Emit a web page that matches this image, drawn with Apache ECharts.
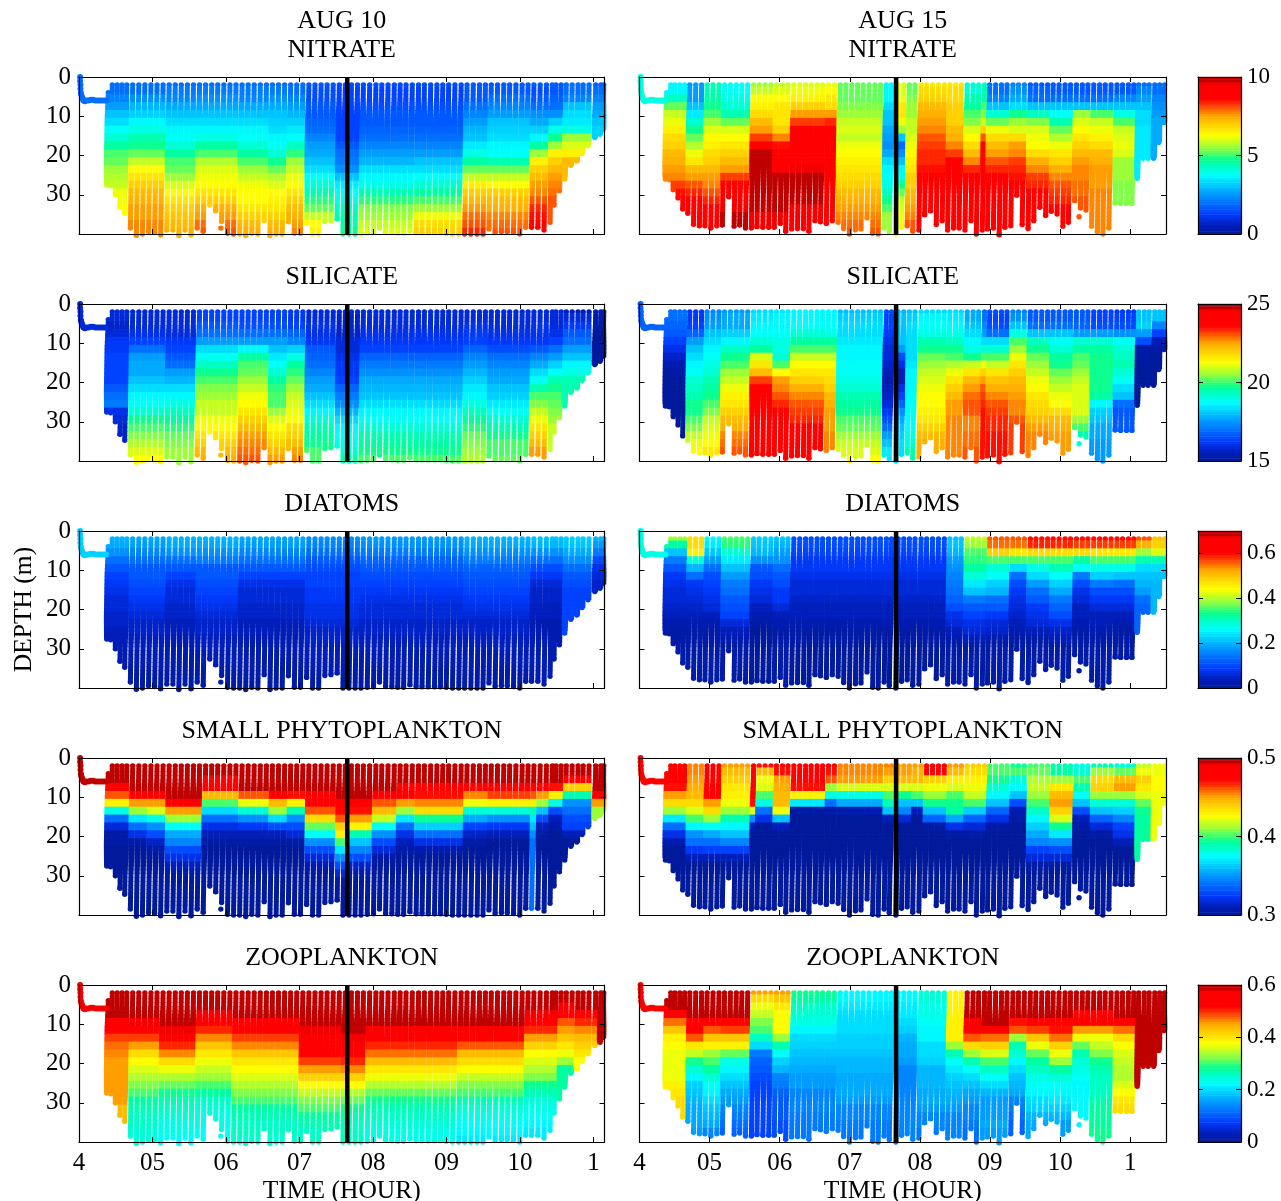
<!DOCTYPE html>
<html><head><meta charset="utf-8">
<style>html,body{margin:0;padding:0;background:#fff}#c{width:1281px;height:1201px}</style>
<script src="https://cdn.jsdelivr.net/npm/echarts@6/dist/echarts.min.js"></script>
</head><body><div id="c"></div>
<script>
// Cast times (hour) and bottom depths (m)
const timesA=[4.40,4.453,4.519,4.585,4.651,4.731,4.814,4.896,4.979,5.062,5.144,5.227,5.31,5.392,5.475,5.558,5.64,5.723,5.806,5.888,5.971,6.054,6.136,6.219,6.302,6.384,6.467,6.55,6.632,6.715,6.798,6.88,6.963,7.046,7.128,7.211,7.294,7.376,7.459,7.542,7.624,7.707,7.79,7.87,7.955,8.04,8.12,8.205,8.29,8.37,8.45,8.535,8.62,8.70,8.785,8.87,8.95,9.03,9.115,9.20,9.28,9.365,9.45,9.53,9.61,9.695,9.78,9.86,9.945,10.03,10.11,10.19,10.275,10.36,10.44,10.49,10.56,10.63,10.71,10.79,10.86,10.94,11.03,11.10,11.14];
const bottomsA=[27.5,27.7,30,33.2,34.7,38.5,40.3,40,39.4,39.6,40.2,39,39,40.4,39,40.2,38.5,39.3,32.6,34.1,36.8,39.8,40,40,40.4,39.8,40,36.6,40.4,40,40,36.9,39.8,39.8,37.3,40,40,36.8,36.6,36.2,40,40,40,40,39.8,39.7,38.5,39.6,39.7,39.8,39.8,39.2,39.7,39.7,39.7,39.7,39.7,39.8,40,40,40,40,40,40,38.7,39.6,39.4,39.4,39.6,40,38.3,38.3,38.3,39,37,32.6,29,26,22.5,21.4,19.5,17.5,15.4,14.6,13.3];
const timesB=[4.39,4.446,4.505,4.575,4.644,4.718,4.802,4.886,4.965,5.049,5.134,5.213,5.297,5.381,5.46,5.544,5.628,5.707,5.791,5.875,5.954,6.039,6.118,6.202,6.286,6.37,6.449,6.533,6.612,6.696,6.78,6.864,6.944,7.028,7.112,7.191,7.275,7.359,7.438,7.522,7.596,7.69,7.77,7.85,7.93,8.017,8.096,8.18,8.264,8.348,8.427,8.511,8.59,8.675,8.759,8.838,8.922,8.996,9.08,9.164,9.243,9.327,9.406,9.49,9.575,9.654,9.738,9.822,9.901,9.985,10.07,10.148,10.232,10.317,10.396,10.48,10.564,10.643,10.727,10.811,10.89,10.974,11.05,11.12,11.2,11.27,11.35,11.42,11.49];
const bottomsB=[26,26.2,28.7,30.8,33.6,34.7,37.5,37.9,37.9,38.5,37.9,37.7,30.5,38,37.7,38.5,38.5,38.1,38.3,38.3,38.3,37.3,39.3,38.7,38.6,38.6,39.3,36.6,36.9,37.3,36.6,37,38.6,40,38.9,38.7,35.9,39.8,40,38.5,39.4,40,38.3,37.9,39.3,39,35.1,34.1,37.6,36.6,39,38.5,38.5,39,36.6,40,39,38.7,38.5,40.2,38.3,37.9,30.1,37.6,38.6,36.6,33.2,35.3,34.2,34.9,38,37,31.5,33.4,33.9,38,39.4,40,38.5,32.1,32.2,32.2,32.2,25.8,20.7,20.7,20.7,16.7,11.6];
const strayA=[5.93,38.5];
const strayB=[10.27,35.6];
const towTimes=[4.015,4.015,4.02,4.02,4.025,4.03,4.04,4.05,4.06,4.08,4.1,4.13,4.16,4.19,4.22,4.25,4.28,4.31,4.34,4.37];
const towDepths=[0,1,2,3,4,4.5,5,5.5,6,6.2,6,6,5.8,5.8,6,6,6,6,6,6];
const blackLineA=7.65, blackLineB=7.66;
const panelNames=['NITRATE','SILICATE','DIATOMS','SMALL PHYTOPLANKTON','ZOOPLANKTON'];
const dates=['AUG 10','AUG 15'];
const xTickLabels=['4','05','06','07','08','09','10','1'];
const yTicks=[0,10,20,30];
const barRanges=[[0,10,5],[15,25,5],[0,0.7,0.2],[0.3,0.5,0.1],[0,0.6,0.2]];
const towValuesA=[2.0,15.8,0.22,0.5,0.58];
const towValuesB=[4.0,16.8,0.28,0.476,0.52];

// Each row: start hour of a run of casts, then the value at depth 2,4,6,... m (last value holds below)
const nitrateA=[
[4.38,2.0,2.0,2.2,2.6,3,3.4,3.8,4.2,4.6,5,5.3,5.5,5.7,5.9,6.1,6.2,6.4],
[4.71,1.9,2,2.4,2.9,3.2,3.6,4,4.4,4.8,5.3,5.8,6.3,6.6,6.9,7.2,7.4,7.5,7.6,7.7,7.8],
[5.16,2,2.1,2.3,2.7,3.1,3.4,3.7,3.9,4.2,4.6,5,5.3,5.6,6,6.3,6.6,6.9,7.1,7.2,7.4],
[5.63,2,2.1,2.4,2.7,3.1,3.4,3.7,4,4.6,5.1,5.7,6,6.2,6.4,6.6,7,7.4,7.6,7.9,8],
[6.14,2,2.1,2.3,2.7,3,3.3,3.6,3.9,4.2,4.6,5.1,5.6,5.9,6.1,6.3,6.4,6.6,6.9,7.2,7.4],
[6.61,2,2.1,2.4,2.7,3,3.2,3.4,3.6,3.9,4.2,4.8,5.2,5.7,6,6.3,6.5,6.7,7,7.2,7.4],
[6.8,1.9,2,2.3,2.6,2.9,3.2,3.5,3.9,4.3,4.9,5.6,5.9,6.1,6.3,6.6,6.9,7.2,7.4,7.6,7.7],
[7.05,1.6,1.5,1.5,1.6,1.7,1.8,2,2.2,2.5,2.8,3,3.4,3.8,4.2,4.5,4.9,5.3,5.8,6.3,6.5],
[7.51,1.5,1.3,1.3,1.3,1.3,1.3,1.3,1.4,1.6,1.9,2.1,2.4,3,3.5,3.8,4,4.3,4.4,4.5,4.7],
[7.84,1.5,1.4,1.4,1.5,1.6,1.7,1.8,2,2.2,2.5,2.9,3.3,3.7,4,4.4,4.9,5.4,5.6,5.8,6],
[8.54,1.5,1.4,1.4,1.5,1.6,1.7,1.8,2,2.2,2.6,3,3.4,3.8,4.2,4.6,5.1,5.6,6.2,6.8,7],
[9.25,1.7,1.6,1.7,2,2.3,2.6,2.9,3.1,3.5,4,4.6,5.3,5.9,6.5,7,7.3,7.6,7.9,8.1,8.3],
[9.61,1.7,1.7,1.9,2.2,2.6,3,3.2,3.4,3.6,3.9,4.4,5.2,5.9,6.4,6.9,7.2,7.4,7.7,7.9,8],
[10.17,1.6,1.5,1.7,2,2.4,2.8,3.2,3.6,4.6,5.6,6.5,7,7.3,7.6,7.8,8.1,8.3,8.5,8.7,8.8],
[10.38,1.6,1.6,1.8,2,2.4,3.2,4,4.8,5.6,6.5,7,7.3,7.5,7.8,7.9,8],
[10.57,1.9,2,2.3,3,3.3,3.5,4,5.5,6,6.5,7.2],
[11,1.8,2,2.3,2.5,2.7,3,3.2]];
const siliA=[
[4.38,15.9,15.8,15.7,15.9,16.1,16.2,16.3,16.3,16.3,16.4,16.6,16.9,17.1,16,15.8,15.7],
[4.71,15.8,15.8,15.8,16,16.4,17,17.6,17.7,17.8,18,18.3,18.6,18.8,19.2,19.7,20,20.4,20.7,21,21.3],
[5.16,15.8,15.8,15.8,15.9,16.1,16.3,16.6,17,17.5,17.9,18.3,18.7,19,19.3,19.6,19.9,20.2,20.4,20.5,20.6],
[5.63,16.3,16.4,16.7,17,17.5,18.3,18.8,19.3,19.8,20,20.4,20.6,20.8,20.9,21.1,21.4,21.6,21.9,22.2,22.4],
[6.14,16.3,16.3,16.5,16.9,17.5,18.7,19.6,20,20.3,20.6,20.9,21.1,21.4,21.6,21.9,22.2,22.5,22.7,22.9,23.1],
[6.61,16.3,16.3,16.5,16.9,17.5,18,18.5,18.8,19.2,19.6,19.9,20,20.1,20.5,21,21.3,21.6,22,22.2,22.5],
[6.8,16.2,16.2,16.4,16.8,17.3,18.2,19,19.6,19.9,20.2,20.5,20.8,21,21.2,21.4,21.8,22,22.2,22.5,22.7],
[7.05,15.9,15.9,16,16,16.2,16.6,16.8,17,17.2,17.5,17.8,18.1,18.3,18.7,19.1,19.4,19.6,19.8,20,20.1],
[7.51,15.8,15.7,15.7,15.7,15.8,15.9,16,16.1,16.2,16.4,16.8,17.1,17.4,17.9,18.3,18.6,18.8,19,19.2,19.4],
[7.84,15.9,15.9,15.9,16,16.2,16.4,16.8,17.1,17.4,17.7,17.9,18.1,18.3,18.6,18.9,19.1,19.4,19.6,19.8,20],
[9.25,15.9,15.9,16,16.1,16.4,16.8,17.2,17.6,17.9,18.2,18.5,18.7,19,19.3,19.6,19.9,20.2,20.4,20.6,20.7],
[9.61,15.9,15.9,15.9,16,16.2,16.5,16.9,17.2,17.6,17.8,18,18.2,18.5,18.8,19.2,19.5,19.8,20,20.1,20.2],
[10.17,15.9,15.9,16,16,16.2,16.6,17.2,17.7,18.3,18.9,19.5,20,20.4,20.8,21.2,21.6,22,22.3,22.5,22.6],
[10.38,15.8,15.8,15.9,16,16.4,17,17.6,18.2,18.8,19.4,19.8,20,20.2,20.4,20.6,20.8],
[10.57,15.6,15.8,16.1,16.6,17,17.5,18,18.6,19,19.5],
[11,15.6,15.4,15.2,15.1]];
const diatA=[
[4.38,.2,.19,.17,.14,.11,.09,.08,.07,.06,.06,.05,.05,.04,.04,.03,.03,.03,.02],
[4.71,.19,.18,.16,.14,.12,.11,.1,.09,.08,.07,.06,.05,.05,.04,.04,.03,.03,.02],
[5.16,.2,.19,.17,.14,.11,.09,.07,.06,.06,.05,.05,.04,.04,.03,.03,.03,.02],
[5.63,.2,.19,.17,.15,.12,.11,.1,.09,.08,.07,.06,.05,.05,.04,.04,.03,.03,.02],
[6.14,.19,.18,.16,.14,.11,.09,.07,.06,.06,.05,.05,.04,.04,.03,.03,.03,.02],
[7.05,.17,.16,.14,.12,.1,.09,.09,.08,.08,.07,.07,.06,.05,.05,.04,.04,.03,.03,.02],
[7.84,.18,.17,.15,.13,.11,.1,.09,.08,.07,.06,.06,.05,.05,.04,.04,.03,.03,.02],
[9.25,.2,.19,.17,.15,.13,.11,.1,.09,.08,.07,.06,.05,.05,.04,.04,.03,.03,.02],
[10.17,.21,.2,.17,.14,.1,.08,.06,.05,.05,.04,.04,.03],
[10.57,.22,.21,.19,.17,.14,.12,.1,.09],
[11,.2,.18,.15,.1,.07,.06,.05]];
const phytoA=[
[4.38,.5,.5,.5,.49,.46,.43,.38,.34,.316,.306,.304,.302,.3],
[4.71,.5,.5,.5,.5,.48,.45,.41,.37,.34,.32,.306,.302,.3],
[4.91,.5,.5,.5,.5,.48,.45,.42,.38,.35,.33,.315,.306,.302,.3],
[5.16,.5,.5,.5,.5,.5,.49,.45,.41,.376,.356,.346,.33,.32,.31,.304,.3],
[5.67,.5,.5,.49,.48,.444,.4,.366,.34,.32,.312,.304,.3],
[6.14,.5,.5,.5,.495,.46,.424,.384,.35,.324,.312,.306,.3],
[6.61,.5,.5,.5,.5,.474,.444,.41,.366,.33,.312,.304,.3],
[6.85,.5,.5,.5,.495,.47,.43,.39,.35,.33,.316,.306,.3],
[7.05,.5,.5,.5,.5,.49,.476,.46,.436,.404,.376,.35,.33,.316,.308,.3],
[7.51,.5,.5,.5,.5,.5,.49,.48,.46,.44,.43,.4,.37,.35,.33,.316,.304,.3],
[7.67,.5,.5,.5,.5,.5,.49,.47,.45,.43,.39,.36,.345,.33,.315,.305,.3],
[7.99,.5,.5,.5,.495,.48,.46,.444,.416,.376,.35,.33,.316,.306,.3],
[8.33,.5,.5,.5,.49,.474,.45,.41,.37,.34,.32,.312,.304,.3],
[8.62,.5,.5,.5,.49,.47,.456,.436,.396,.364,.34,.32,.308,.3],
[9.28,.5,.5,.5,.49,.456,.424,.384,.356,.328,.314,.304,.3],
[9.61,.5,.5,.5,.49,.464,.43,.384,.35,.324,.31,.302,.3],
[10.15,.5,.5,.5,.49,.46,.43,.39,.37,.36,.35,.34],
[10.22,.5,.5,.5,.48,.45,.41,.36,.33,.31,.305,.3],
[10.38,.5,.5,.5,.47,.43,.38,.33,.31,.304,.3],
[10.6,.5,.5,.49,.44,.39,.35,.34,.33,.325,.31,.3],
[11.02,.5,.5,.5,.5,.49,.45,.41]];
const zooA=[
[4.38,.6,.6,.6,.59,.55,.52,.49,.47,.46,.45,.45,.45,.45,.45,.45,.44],
[4.69,.6,.6,.6,.6,.58,.54,.49,.45,.41,.38,.36,.34,.32,.3,.28,.27,.26,.26,.25,.25],
[5.14,.6,.6,.6,.6,.6,.58,.54,.5,.46,.41,.37,.34,.31,.29,.27,.26,.25,.24,.24,.23],
[5.6,.6,.6,.6,.58,.54,.5,.46,.43,.4,.37,.35,.33,.3,.28,.26,.25,.24,.24,.23,.23],
[6.12,.6,.6,.6,.59,.55,.52,.49,.46,.43,.4,.38,.36,.34,.32,.3,.28,.27,.26,.26,.25],
[7,.6,.6,.6,.6,.6,.58,.56,.54,.52,.49,.45,.42,.38,.35,.32,.3,.28,.27,.26,.26],
[7.62,.6,.6,.6,.6,.6,.6,.58,.56,.53,.5,.46,.42,.38,.34,.31,.29,.27,.26,.26,.26],
[7.9,.6,.6,.6,.6,.59,.56,.53,.5,.47,.44,.4,.37,.34,.31,.29,.27,.26,.25,.24,.24],
[9.2,.6,.6,.6,.6,.6,.56,.52,.48,.44,.41,.38,.35,.32,.3,.27,.25,.24,.23,.22,.21],
[10.1,.6,.6,.6,.58,.54,.5,.45,.42,.38,.36,.34,.32,.29,.27,.25,.24,.23,.22,.21],
[10.5,.6,.6,.58,.54,.48,.45,.43,.4,.37,.33,.28],
[10.75,.6,.6,.6,.56,.5,.46,.44,.42,.4,.38],
[11.04,.6]];
const nitrateB=[
[4.38,3.7,3.7,4.3,5.2,5.8,6.2,6.5,6.8,7,7.2,7.4,7.6,7.8,8.2,8.5,8.8,9],
[4.68,2.6,2.6,2.6,3,3.5,4.2,4.8,5.2,5.7,6.2,6.6,7.2,7.6,8,8.3,8.7,8.9,9,9],
[4.93,4.4,4.4,4.6,4.7,5,5.5,6,6.3,6.5,6.8,7,7.3,7.6,7.8,8,8.4,8.6,8.8,8.8],
[5.19,3.8,3.8,4,4.2,4.5,5.2,6,6.3,6.6,6.9,7.2,7.6,8.2,8.8,9.1,9.4,9.6,9.7,9.7],
[5.59,5.6,5.8,6.3,6.5,6.8,7.2,7.6,8.2,9.2,9.7,10,10,10,10,9.9,9.8,9.7,9.6,9.6],
[5.9,5.8,6,6.3,6.6,6.6,6.7,7,7.8,8.5,9,9.3,9.5,9.7,9.8,9.8,9.7,9.7,9.6,9.6],
[6.16,6,6.2,6.5,7,7.6,8.2,8.6,9,9,9.2,9.4,9.6,9.7,9.8,9.8,9.7,9.6,9.6,9.5,9.5],
[6.62,6.2,6.4,6.6,6.8,7.6,8.3,8.6,8.8,8.9,9,9,9.1,9.1,9.2,9.3,9.3,9.4,9.4,9.4,9.4],
[6.83,5.2,5.2,5.3,5.4,5.6,5.8,6,5.9,6.1,6.3,6.5,6.6,6.8,7,7.2,7.4,7.6,7.7,7.9,8],
[7.5,3.6,3.6,3.6,3.3,3,3,2.7,2.5,2.4,2.7,3.3,3.6,3.8,4,4.3,4.7,5,5.5],
[7.68,6,6,6.2,6.6,6.6,6.2,5.5,3,2,2.4,3,3.6,4,4.7,5.2,5.8,6,6.2],
[7.78,5.2,5.2,5.4,5.5,5.6,5.8,5.9,6,6.2,6.3,6.5,6.7,6.9,7,7.2,7.4,7.6,7.8,8],
[8.01,6.6,6.8,7,7.2,7.4,7.6,7.8,8,8.2,8.3,8.4,8.5,8.6,8.8,9,9.2,9.3],
[8.39,6.6,6.8,6.8,6.9,6.9,7,7.2,7.4,7.8,8.2,8.6,8.8,9,9,9,9.1],
[8.63,4.2,4.2,4.4,4.6,5,5.4,6,6.4,6.8,7.3,7.8,8.4,8.7,8.9,9,9.1],
[8.88,4.4,4.4,4.6,5,5.4,6,7,8,8.7,9],
[8.97,2,2,2.2,3,4.2,5.2,6.2,6.8,7.2,7.5,8,8.4,8.7,8.8,8.8,8.9,8.9,9],
[9.28,2.3,2.4,2.8,3.4,4.8,5.6,6,6.8,7.5,7.8,8.2,8.4,8.5,8.7,8.8,8.9],
[9.54,1.7,1.8,2,3,4.3,5.4,6,6.2,6.4,6.8,7.4,7.8,8.2,8.4,8.6,8.7,8.8],
[9.87,1.7,1.7,2,3,3.8,4.5,5.2,5.7,6.2,6.6,7,7.4,7.8,8,8.2,8.4,8.6,8.7],
[10.2,1.6,1.6,2,3,5.6,6,6.3,6.6,7,7.3,7.6,7.8,7.8,7.9,7.9,8],
[10.41,1.6,1.6,2,3,5,5.8,6.2,6.5,6.8,7.2,7.4,7.5,7.6,7.6,7.7,7.8],
[10.78,1.6,1.7,2.2,3,4,5,5.8,6,6.2,6,5.6,5.6,5.5,5.4],
[11.1,2,2.2,2.6,3,3.3,3.4,3.5],
[11.35,2,2,2.2,2.4,2.6,2.8]];
const siliB=[
[4.38,17,17,16.8,16.6,16.3,16,15.7,15.4,15.2,15.1],
[4.68,16.2,16.2,16.4,16.8,17.5,18,18.3,18.6,18.8,19.2,19.3,19.5,19.7,19.8,20,20.4,20.8,21.2,21.4],
[4.93,17.2,17.4,17.6,18,18.3,18.6,18.9,19,19.2,19.4,19.6,19.8,20,20.4,20.8,21,21.2,21.4,21.6],
[5.19,17.6,17.7,17.8,18.2,18.7,19.3,19.7,20,20.5,20.9,21.2,21.5,21.7,22,22.2,22.4,22.7,22.9,23],
[5.59,18.4,18.5,18.6,18.8,19.2,19.6,21,21.6,22.3,23.2,23.6,23.8,24.1,24.1,24.1,24,24,23.9],
[5.9,18.5,18.6,18.7,18.8,19,19,19.2,20,21.3,22.5,22.8,23.1,23.4,23.6,23.8,24],
[6.16,18.6,18.6,18.8,19.1,19.6,20,20.8,21.3,21.6,22,22.4,22.7,23,23.2,23.4,23.6,23.8],
[6.62,18.6,18.7,18.8,19,19.6,20,20.8,21.3,21.6,21.8,22,22.2,22.4,22.5,22.6,22.6,22.7,22.7,22.7,22.8],
[6.83,18.1,18.2,18.3,18.4,18.5,18.6,18.7,18.8,18.9,19,19.2,19.4,19.6,19.8,20,20.3,20.6,20.8,21,21.3],
[7.5,16.5,16.4,16.3,16.2,16,15.9,15.8,15.7,15.6,15.4,15.5,15.7,15.9,16.1,16.5,17,17.5,18,18.5],
[7.68,17.9,18,18,18.1,18,17.5,16.5,16,15.5,15.6,16,16.4,16.8,17.4,17.8,18,18.2,18.3,18.4],
[7.78,18.1,18.2,18.3,18.4,18.4,18.4,18.4,18.5,18.6,18.7,18.7,18.8,18.8,18.8,18.9,18.9,19,19.2,19.5],
[8.01,18.4,18.6,18.8,19,19.4,19.8,20.3,20.6,20.8,21,21.2,21.3,21.4,21.5,21.7,22,22.2,22.4],
[8.35,18.3,18.5,18.7,19,19.3,19.7,20.1,20.7,21.2,21.6,22,22.3,22.5,22.6,22.7,22.8],
[8.63,17.8,17.8,18,18.3,18.6,19,19.8,20.8,21.6,22.2,22.5,22.9,23.1,23,22.8,22.8,22.9,22.9,23],
[8.88,17,17,17.2,17.6,18.4,19.2,20,21.2,22,22.6,23,23.2,23.3,23.5],
[8.97,16.5,16.3,16.5,17,18.3,19.2,20,20.8,21.6,22.1,22.4,22.7,23,23.2,23.4,23.4,23.5],
[9.28,17.2,17.4,18,19,20,20.5,21.2,21.7,22,22.2,22.4,22.6,22.7,22.8,23,23.2],
[9.54,16.6,16.6,17,18,19.3,19.7,20.3,20.6,20.9,21.2,21.4,21.6,21.8,22,22.3,22.6,22.8],
[9.87,16.6,16.6,17,18,18.8,19.2,19.6,19.8,20.2,20.5,20.8,21.2,21.4,21.8,22.2,22.4,22.5,22.6],
[10.2,16.6,16.6,16.8,17.6,19.2,19.6,20,20.3,20.6,20.9,21,21,21,21,20.5,20,19.4,19],
[10.41,16.4,16.3,16.5,17.5,19.2,19.6,19.7,19.8,19.8,19.8,19.7,19.6,18.6,18.2,18,17.8,17.7,17.6,17.6,17.5],
[10.78,16.2,16.3,16.5,17.4,18.8,19.2,19.3,19.4,19.2,18.8,18.4,18,17,16.7,16.6,16.6,16.5],
[11.1,18,18,18.2,17.5,16.5,15.3,15.2,15.1],
[11.35,18,18,17.2,16.4,15.5,15.2,15.1]];
const diatB=[
[4.38,.39,.32,.21,.15,.11,.08,.07,.06,.06,.05,.04,.03,.02],
[4.68,.48,.48,.45,.29,.2,.14,.08,.07,.06,.05,.04,.03,.02],
[4.93,.26,.25,.21,.18,.14,.1,.09,.08,.07,.06,.04,.03,.02],
[5.19,.35,.34,.29,.25,.21,.18,.15,.14,.12,.1,.09,.06,.04,.03,.02],
[5.59,.22,.21,.2,.17,.12,.1,.08,.07,.06,.04,.03,.02,.01],
[5.9,.21,.2,.18,.17,.14,.12,.1,.08,.08,.06,.04,.03,.02],
[6.16,.1,.1,.09,.08,.08,.07,.06,.06,.05,.04,.04,.03,.02,.02,.01],
[8.39,.21,.21,.2,.18,.17,.16,.15,.14,.13,.1,.07,.06,.04,.03,.02],
[8.63,.41,.39,.36,.34,.32,.29,.25,.21,.15,.12,.09,.07,.06,.04,.02],
[8.97,.56,.55,.49,.36,.29,.27,.22,.2,.14,.11,.08,.06,.05,.03,.02],
[9.28,.56,.55,.46,.35,.24,.14,.1,.08,.07,.06,.05,.04,.03,.02],
[9.54,.6,.59,.48,.35,.28,.23,.18,.14,.11,.08,.07,.06,.04,.02],
[9.87,.6,.59,.48,.35,.31,.27,.22,.19,.15,.13,.1,.07,.05,.04,.02],
[10.2,.6,.57,.48,.32,.27,.15,.1,.07,.06,.04,.04,.03,.02],
[10.41,.6,.57,.46,.35,.28,.22,.15,.1,.08,.06,.04,.04,.03,.02],
[10.78,.6,.57,.46,.35,.28,.21,.14,.1,.08,.06,.04,.03,.02],
[11.1,.56,.52,.39,.31,.24,.21,.2,.18,.14,.13],
[11.35,.5,.49,.42,.31,.23,.21,.2]];
const phytoB=[
[4.38,.476,.476,.474,.47,.45,.436,.41,.37,.34,.32,.308,.3],
[4.68,.456,.456,.452,.448,.444,.436,.42,.4,.372,.35,.34,.324,.31,.3],
[4.93,.476,.476,.476,.476,.476,.45,.436,.41,.376,.354,.34,.326,.31,.3],
[5.19,.45,.446,.44,.434,.43,.424,.41,.39,.374,.36,.344,.328,.312,.3],
[5.59,.474,.474,.474,.474,.474,.47,.42,.35,.31,.3],
[5.67,.47,.444,.424,.42,.4,.38,.34,.32,.302,.3],
[5.9,.474,.47,.452,.448,.446,.444,.424,.36,.31,.3],
[6.16,.474,.474,.474,.47,.43,.37,.306,.3],
[6.62,.474,.47,.46,.41,.38,.34,.306,.3],
[6.83,.456,.454,.45,.42,.38,.354,.308,.3],
[7.5,.456,.452,.44,.42,.4,.39,.36,.31,.3],
[7.68,.45,.45,.444,.42,.396,.36,.344,.316,.3],
[7.88,.45,.448,.444,.42,.4,.36,.31,.3],
[8.03,.476,.474,.44,.424,.41,.396,.36,.336,.306,.3],
[8.39,.45,.444,.43,.42,.4,.396,.392,.356,.32,.304,.3],
[8.63,.44,.436,.43,.424,.416,.4,.364,.336,.316,.306,.3],
[8.97,.4,.4,.396,.384,.372,.36,.336,.32,.306,.3],
[9.28,.396,.4,.384,.372,.36,.33,.308,.304,.3],
[9.54,.4,.404,.414,.416,.41,.4,.386,.372,.364,.354,.344,.328,.316,.304,.3],
[9.87,.388,.392,.412,.432,.446,.45,.44,.42,.394,.37,.35,.33,.316,.304,.3],
[10.2,.38,.384,.4,.39,.376,.36,.33,.31,.304,.3],
[10.43,.388,.41,.436,.44,.41,.384,.36,.336,.316,.306,.3],
[10.78,.384,.404,.444,.45,.41,.384,.364,.344,.328,.32,.31,.3],
[11.1,.416,.424,.44,.432,.42,.406,.396,.392],
[11.35,.424,.424,.428,.428,.424]];
const zooB=[
[4.38,.6,.6,.6,.54,.47,.43,.39,.38,.37,.37,.37,.37,.39,.4,.41],
[4.68,.6,.6,.6,.6,.57,.53,.48,.4,.35,.29,.25,.22,.19,.18,.17,.16,.16,.16,.15],
[4.93,.59,.59,.59,.59,.55,.48,.43,.39,.33,.3,.28,.25,.23,.22,.2,.18,.17,.16,.14],
[5.19,.6,.6,.6,.6,.55,.49,.43,.39,.31,.24,.22,.2,.18,.16,.15,.14,.13,.12,.11],
[5.59,.45,.41,.37,.35,.32,.3,.26,.2,.13,.11,.1,.09,.08],
[5.9,.45,.43,.4,.38,.38,.38,.33,.27,.23,.19,.17,.14,.13,.11,.1,.1,.1,.09],
[6.16,.29,.28,.26,.25,.24,.22,.2,.19,.18,.17,.16,.15,.15,.14,.14,.14,.13],
[6.83,.22,.22,.21,.2,.2,.2,.19,.19,.18,.17,.17,.16,.16,.16,.15,.14,.14,.13,.13],
[7.69,.22,.22,.21,.21,.2,.19,.17,.16,.16,.15,.14],
[8.01,.25,.25,.24,.24,.23,.22,.22,.2,.2,.19,.17,.17,.17,.16,.16,.15,.14,.14,.13],
[8.39,.39,.39,.39,.39,.39,.39,.39,.33,.27,.23,.21,.19,.18,.17,.16,.15,.14],
[8.63,.6,.6,.6,.6,.55,.53,.48,.41,.33,.27,.23,.2,.18,.16,.15,.14,.14,.13,.12],
[8.88,.6,.6,.6,.6,.6,.53,.47,.42,.36,.3,.26,.23,.2,.17,.15,.15,.15,.16,.15],
[9.28,.6,.6,.6,.6,.51,.48,.33,.27,.25,.22,.2,.18,.17,.16,.14,.13,.12,.11],
[9.54,.6,.6,.6,.6,.57,.49,.43,.37,.31,.28,.26,.24,.23,.22,.2,.19,.17,.16],
[9.87,.6,.6,.6,.6,.55,.51,.47,.42,.37,.33,.28,.25,.23,.22,.21,.19,.17,.15],
[10.2,.6,.6,.6,.57,.52,.45,.37,.31,.27,.25,.24,.23,.22],
[10.41,.6,.6,.6,.57,.52,.45,.37,.35,.32,.29,.27,.26,.26,.26,.27,.28,.28,.28,.29],
[10.78,.6,.6,.6,.59,.54,.47,.41,.38,.36,.35,.34,.34,.36,.38,.4,.41],
[11.1,.6]];
const profilesA=[nitrateA,siliA,diatA,phytoA,zooA];
const profilesB=[nitrateB,siliB,diatB,phytoB,zooB];

const FONT='"Liberation Serif","Times New Roman",serif';
const rowTops=[77,304,531,758,985], H=157;
const cols=[{left:79,width:525.5,max:11.15},{left:639.5,width:526.5,max:11.51}];

// colour scale as seen on the reference's colour bars
const stops=[[0,0,25,150],[.06,0,30,190],[.125,0,60,255],[.25,0,150,255],[.375,0,255,255],[.47,0,255,150],[.55,150,255,60],[.63,255,255,0],[.75,255,170,0],[.86,255,0,0],[.96,255,0,0],[.965,190,0,0],[1,190,0,0]];
function jet(f){
  const lv=Math.max(0,Math.min(63,Math.floor(f*64))),x=(lv+.5)/64;
  for(let i=1;i<stops.length;i++) if(x<=stops[i][0]){
    const a=stops[i-1],b=stops[i],u=(x-a[0])/(b[0]-a[0]);
    return 'rgb('+[1,2,3].map(j=>Math.round(a[j]+(b[j]-a[j])*u)).join(',')+')';
  }
  return 'rgb(190,0,0)';
}
function lookup(rows,t,d){
  let row=rows[0];
  for(const r of rows) if(r[0]<=t+1e-9) row=r;
  const i=Math.max(0,Math.round((d-2)/2));
  return row[Math.min(1+i,row.length-1)];
}
const TILT=0.00088;
// 4th field marks the rounded ends of a cast
function castPoints(rows,times,bottoms,stray){
  const pts=[];
  times.forEach((t,k)=>{
    const top=k===0?4:2, b=bottoms[k];
    for(let d=top;d<b;d+=1) pts.push([t-(d-2)*TILT,d,lookup(rows,t,d),d===top?1:0]);
    pts.push([t-(b-2)*TILT,b,lookup(rows,t,b),1]);
  });
  pts.push([stray[0],stray[1],lookup(rows,stray[0],stray[1]),1]);
  return pts;
}
function castWidth(d){
  if(d<5) return 5;
  if(d<11) return 5+(d-5)*0.25;
  if(d<22) return 6.5;
  if(d<30) return 6.5-(d-22)*0.18;
  return 5;
}

const grid=[],xAxis=[],yAxis=[],series=[],title=[];
const baseLine={show:true,lineStyle:{color:'#000',width:1.2}};
const baseTick={show:true,inside:true,length:5,lineStyle:{color:'#000',width:1}};
let g=0;
function addAxes(gi,x0,x1,y0,y1,xI,yI,inv,opt){
  xAxis.push(Object.assign({gridIndex:gi,type:'value',min:x0,max:x1,interval:xI,position:'bottom',z:10,axisLine:Object.assign({onZero:false},baseLine),axisTick:baseTick,splitLine:{show:false},axisLabel:{show:false}},opt.xb||{}));
  xAxis.push({gridIndex:gi,type:'value',min:x0,max:x1,interval:xI,position:'top',z:10,axisLine:Object.assign({onZero:false},baseLine),axisTick:baseTick,splitLine:{show:false},axisLabel:{show:false}});
  yAxis.push(Object.assign({gridIndex:gi,type:'value',min:y0,max:y1,interval:yI,inverse:inv,position:'left',z:10,axisLine:Object.assign({onZero:false},baseLine),axisTick:baseTick,splitLine:{show:false},axisLabel:{show:false}},opt.yl||{}));
  yAxis.push(Object.assign({gridIndex:gi,type:'value',min:y0,max:y1,interval:yI,inverse:inv,position:'right',z:10,axisLine:Object.assign({onZero:false},baseLine),axisTick:baseTick,splitLine:{show:false},axisLabel:{show:false}},opt.yr||{}));
}
const titleStyle={fontFamily:FONT,fontSize:26,fontWeight:'normal',color:'#000'};
for(let c=0;c<2;c++){
  const col=cols[c];
  const times=c?timesB:timesA,bottoms=c?bottomsB:bottomsA,stray=c?strayB:strayA;
  const profs=c?profilesB:profilesA,towV=c?towValuesB:towValuesA,bl=c?blackLineB:blackLineA;
  const cx=col.left+col.width/2-5;
  title.push({text:dates[c],left:cx,top:3,textAlign:'center',textStyle:titleStyle});
  for(let r=0;r<5;r++){
    const gi=g++;
    grid.push({left:col.left,top:rowTops[r],width:col.width,height:H,outerBoundsMode:'none'});
    title.push({text:panelNames[r],left:cx,top:rowTops[r]-45,textAlign:'center',textStyle:titleStyle});
    const opt={};
    if(r===4) opt.xb={name:'TIME (HOUR)',nameLocation:'center',nameGap:36,nameTextStyle:{fontFamily:FONT,fontSize:25.5,color:'#000'},
      axisLabel:{show:true,showMaxLabel:false,margin:9,fontFamily:FONT,fontSize:25,color:'#000',formatter:v=>xTickLabels[Math.round(v-4)]||''}};
    if(c===0){
      opt.yl={axisLabel:{show:true,showMaxLabel:false,margin:8,padding:[4,0,0,0],fontFamily:FONT,fontSize:25,color:'#000',formatter:v=>yTicks.includes(v)?String(v):''}};
      if(r===2) Object.assign(opt.yl,{name:'DEPTH (m)',nameLocation:'center',nameGap:42,nameRotate:90,nameTextStyle:{fontFamily:FONT,fontSize:25.5,color:'#000'}});
    }
    addAxes(gi,4,col.max,0,40,1,10,true,opt);
    const ax=gi*2;
    const cmin=barRanges[r][0],cmax=barRanges[r][1];
    const colorOf=p=>jet((p.data[2]-cmin)/(cmax-cmin));
    series.push({type:'scatter',xAxisIndex:ax,yAxisIndex:ax,data:castPoints(profs[r],times,bottoms,stray),
      symbol:d=>d[3]?'circle':'rect',symbolSize:d=>d[3]?5.4:[castWidth(d[1]),4.6],clip:false,silent:true,animation:false,progressive:0,itemStyle:{color:colorOf,opacity:1}});
    series.push({type:'scatter',xAxisIndex:ax,yAxisIndex:ax,data:towTimes.map((t,i)=>[t,towDepths[i],towV[r]]),symbol:'circle',symbolSize:6,clip:false,silent:true,animation:false,itemStyle:{color:colorOf,opacity:1}});
    series.push({type:'line',xAxisIndex:ax,yAxisIndex:ax,data:[[bl,0],[bl,40]],symbol:'none',silent:true,animation:false,z:5,lineStyle:{color:'#000',width:4.5}});
  }
}
// colour bars
for(let r=0;r<5;r++){
  const gi=g++,[mn,mx,iv]=barRanges[r];
  grid.push({left:1198,top:rowTops[r],width:43,height:H,outerBoundsMode:'none'});
  addAxes(gi,0,1,mn,mx,1,iv,false,{yr:{axisLabel:{show:true,showMaxLabel:r!==2,margin:6,padding:[4,0,0,0],fontFamily:FONT,fontSize:23,color:'#000',formatter:v=>String(Math.round(v*10)/10)}}});
  xAxis[xAxis.length-2].axisTick={show:false};xAxis[xAxis.length-1].axisTick={show:false};
  const lv=[];for(let k=0;k<64;k++) lv.push([0.5,mn+(k+.5)/64*(mx-mn)]);
  series.push({type:'scatter',xAxisIndex:gi*2,yAxisIndex:gi*2,data:lv,symbol:'rect',symbolSize:[43,H/64+.5],silent:true,animation:false,itemStyle:{color:p=>jet((p.data[1]-mn)/(mx-mn)),opacity:1}});
}
const chart=echarts.init(document.getElementById('c'),null,{renderer:'canvas'});
chart.setOption({animation:false,backgroundColor:'#fff',title,grid,xAxis,yAxis,series});
</script></body></html>
